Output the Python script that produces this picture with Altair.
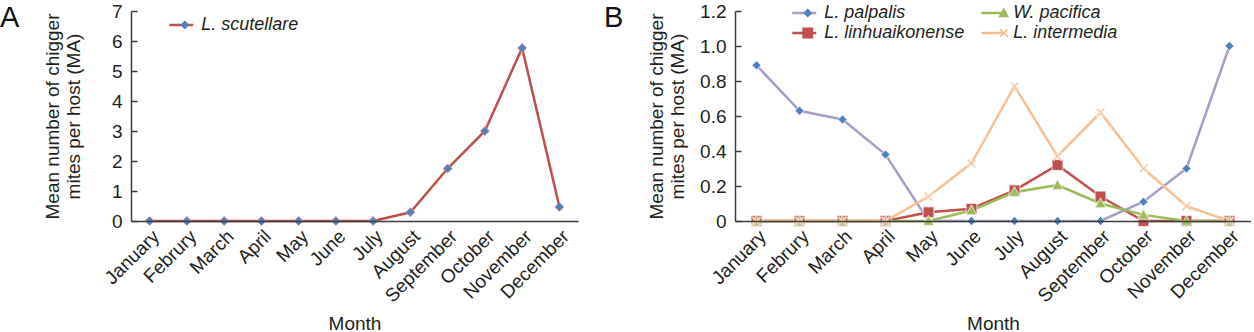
import altair as alt
import pandas as pd

months = ["January", "Februry", "March", "April", "May", "June", "July",
          "August", "September", "October", "November", "December"]

# Panel A
scutellare = [0, 0, 0, 0, 0, 0, 0, 0.29, 1.75, 3.0, 5.77, 0.47]

# Panel B
palpalis = [0.89, 0.63, 0.58, 0.38, 0, 0, 0, 0, 0, 0.11, 0.30, 1.0]
linhuaikonense = [0, 0, 0, 0, 0.05, 0.07, 0.175, 0.32, 0.14, 0, 0, 0]
pacifica = [0, 0, 0, 0, 0, 0.06, 0.165, 0.205, 0.10, 0.035, 0, 0]
intermedia = [0, 0, 0, 0, 0.14, 0.33, 0.77, 0.37, 0.62, 0.30, 0.085, 0]

a_series = ["L. scutellare"]
b_series = ["L. palpalis", "L. linhuaikonense", "W. pacifica", "L. intermedia"]

a_ticks = [0, 1, 2, 3, 4, 5, 6, 7]
b_ticks = [0, 0.2, 0.4, 0.6, 0.8, 1.0, 1.2]

FONT = "Liberation Sans"
TXT = "#231f20"
AX = "#3c3c3c"
H = 210


def long_df(names, values):
    rows = []
    for s, vals in zip(names, values):
        for i, (m, v) in enumerate(zip(months, vals)):
            rows.append({"month": m, "value": v, "series": s, "series_m": s, "idx": i})
    return pd.DataFrame(rows)


def panel(df, names, line_colors, fills, mstroke, shapes, ticks, label_expr,
          width, letter, lx, ly, columns, col_pad, m_col_pad):
    xenc = alt.X("month:N", sort=months, title="Month",
                 axis=alt.Axis(labelAngle=-45, labelAlign="right", labelBaseline="middle",
                               labelPadding=12, labelOffset=6, labelFontSize=19,
                               labelFont=FONT, labelColor=TXT, ticks=False,
                               domainColor=AX, domainWidth=1.5, titleFontSize=19,
                               titleFont=FONT, titleFontWeight="normal", titleColor=TXT,
                               titlePadding=9, zindex=1, labelOverlap=False,
                               labelBound=False, labelFlush=False))
    yscale = alt.Scale(domain=[ticks[0], ticks[-1]], nice=False, zero=True)
    y_line = alt.Y("value:Q", scale=yscale,
                   title=["Mean number of chigger", "mites per host (MA)"],
                   axis=alt.Axis(orient="left", values=ticks, labelExpr=label_expr,
                                 ticks=False, grid=False, labelFontSize=19,
                                 labelFont=FONT, labelColor=TXT, labelPadding=9,
                                 domainColor=AX, domainWidth=1.5, titleFontSize=19,
                                 titleFont=FONT, titleFontWeight="normal",
                                 titleColor=TXT, titleLineHeight=21,
                                 titlePadding=12, minExtent=36, maxExtent=36))
    y_pt = alt.Y("value:Q", scale=yscale, title=None,
                 axis=alt.Axis(orient="right", offset=-width, values=ticks,
                               labels=False, domain=False, ticks=True, tickSize=6,
                               tickColor=AX, tickWidth=1.5, grid=False,
                               minExtent=0, maxExtent=0))

    line_legend = alt.Legend(orient="none", legendX=lx, legendY=ly, title=None,
                             symbolType="stroke", symbolSize=576, symbolStrokeWidth=2.5,
                             labelFont=FONT, labelFontSize=18, labelFontStyle="italic",
                             labelColor=TXT, labelOffset=6.5, columns=columns,
                             columnPadding=col_pad, rowPadding=0, clipHeight=20,
                             padding=0)
    mark_legend = alt.Legend(orient="none", legendX=lx + 8, legendY=ly, title=None,
                             symbolSize=81, symbolStrokeWidth=0.8,
                             symbolStrokeColor=mstroke,
                             labelExpr="''", labelOffset=0, labelFontSize=18,
                             columns=columns, columnPadding=m_col_pad, rowPadding=0,
                             clipHeight=20, padding=0)

    lines = alt.Chart(df).mark_line(strokeWidth=2.5).encode(
        x=xenc, y=y_line,
        stroke=alt.Stroke("series:N", sort=names,
                          scale=alt.Scale(domain=names, range=line_colors),
                          legend=line_legend),
        order="idx:Q",
    )
    points = alt.Chart(df).mark_point(filled=True, size=81, stroke=mstroke,
                                      strokeWidth=0.8, opacity=1).encode(
        x=xenc, y=y_pt,
        fill=alt.Fill("series_m:N", sort=names,
                      scale=alt.Scale(domain=names, range=fills), legend=mark_legend),
        shape=alt.Shape("series_m:N", sort=names,
                        scale=alt.Scale(domain=names, range=shapes), legend=mark_legend),
    )
    return alt.layer(lines, points).resolve_scale(
        stroke="independent", fill="independent", shape="independent"
    ).resolve_axis(y="independent").properties(
        width=width, height=H,
        title=alt.TitleParams(letter, anchor="start", frame="group", fontSize=29,
                              font=FONT, fontWeight="normal", color="#111",
                              dx=-131, dy=64, baseline="bottom"),
    )


SQUARE = "M-1.2,-1.2L1.2,-1.2L1.2,1.2L-1.2,1.2Z"
TRIANGLE = "M0,-1.25L1.2,0.95L-1.2,0.95Z"
XSHAPE = ("M-1,-0.75L-0.75,-1L0,-0.25L0.75,-1L1,-0.75L0.25,0L1,0.75L0.75,1"
          "L0,0.25L-0.75,1L-1,0.75L-0.25,0Z")

df_a = long_df(a_series, [scutellare])
df_b = long_df(b_series, [palpalis, linhuaikonense, pacifica, intermedia])

chart_a = panel(df_a, a_series, ["#c0504d"], ["#4f81bd"], "#d98a88", ["diamond"],
                a_ticks, "datum.value", 447, "A", 36.75, 4, 1, 15, 15)
chart_b = panel(df_b, b_series,
                ["#a79fca", "#c0504d", "#9bbb59", "#f9bf90"],
                ["#4f81bd", "#c0504d", "#9bbb59", "#f9bf90"],
                "#f2f2f2",
                ["diamond", SQUARE, TRIANGLE, XSHAPE],
                b_ticks, "datum.value == 0 ? '0' : format(datum.value, '.1f')",
                516, "B", 55.75, -8, 2, 15, 178)

chart = alt.hconcat(chart_a, chart_b, spacing=26).resolve_scale(
    stroke="independent", fill="independent", shape="independent",
    x="independent", y="independent"
).properties(
    padding={"left": 0, "top": 2, "right": 0, "bottom": 0},
    background="white",
).configure_view(stroke=None)

chart.save("out.html", embed_options={"renderer": "svg", "actions": False})
